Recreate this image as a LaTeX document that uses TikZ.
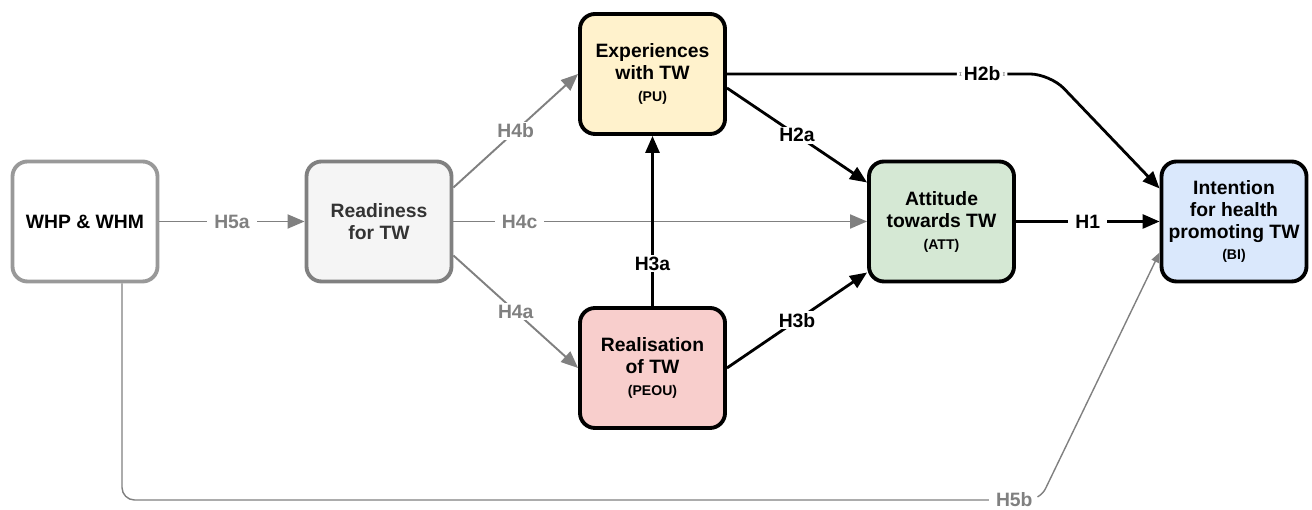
\documentclass[tikz,border=0pt]{standalone}
\usepackage{fontspec}
\setmainfont{Liberation Sans}
\usetikzlibrary{positioning, arrows.meta, calc}

\definecolor{puyellow}{HTML}{FFF2CC}
\definecolor{peoured}{HTML}{F8CECC}
\definecolor{attgreen}{HTML}{D5E8D4}
\definecolor{biblue}{HTML}{DAE8FC}
\definecolor{lightfill}{HTML}{F5F5F5}
\definecolor{edgegray}{HTML}{808080}
\definecolor{boxgray}{HTML}{999999}

\newcommand{\abbr}[1]{{\fontsize{8}{9}\selectfont(#1)}}

\begin{document}
\begin{tikzpicture}[>={Triangle[length=0.34cm, width=0.28cm]},
  factor/.style={draw, rounded corners=0.3cm, minimum width=2.9cm,
    minimum height=2.4cm, line width=2.2pt, align=center, inner sep=2pt,
    font=\fontsize{11}{12.5}\selectfont\bfseries},
  hyp/.style={fill=white, inner xsep=4pt, inner ysep=1pt,
    font=\fontsize{11}{12}\selectfont\bfseries},
  strong/.style={->, line width=1.6pt},
  weak/.style={->, line width=1.1pt, draw=edgegray},
  faint/.style={->, line width=0.8pt, draw=edgegray,
    >={Triangle[length=0.2cm, width=0.16cm]}}]

\useasboundingbox (0,0) rectangle (26.24,10.2);

% --- Factors ---
\node[factor, draw=boxgray] (whp) at (1.7, 5.77) {WHP \& WHM};
\node[factor, draw=edgegray, fill=lightfill, text=black!80] (ready) at (7.58, 5.77)
  {Readiness\\for TW};
\node[factor, fill=puyellow] (exp) at (13.05, 8.72)
  {Experiences\\with TW\\\abbr{PU}};
\node[factor, fill=peoured] (real) at (13.05, 2.84)
  {Realisation\\of TW\\\abbr{PEOU}};
\node[factor, fill=attgreen] (att) at (18.83, 5.77)
  {Attitude\\towards TW\\\abbr{ATT}};
\node[factor, fill=biblue] (bi) at (24.68, 5.77)
  {Intention\\for health\\promoting TW\\\abbr{BI}};

% --- Bends ---
\coordinate (h2bturn) at (21.0, 8.72);
\coordinate (h5bturn) at (20.8, 0.2);

% --- Readiness paths (gray) ---
\draw[weak] (whp) -- node[hyp, text=edgegray] {H5a} (ready);
\draw[weak] ([yshift=0.68cm]ready.east) -- node[hyp, text=edgegray] {H4b} (exp.west);
\draw[weak] (ready) -- node[hyp, text=edgegray, pos=0.16] {H4c} (att);
\draw[weak] ([yshift=-0.68cm]ready.east) -- node[hyp, text=edgegray] {H4a} (real.west);

% --- TAM paths (black) ---
\draw[strong] (real) -- node[hyp, pos=0.25] {H3a} (exp);
\draw[strong] ([yshift=-0.28cm]exp.east) -- node[hyp] {H2a} ([yshift=0.78cm]att.west);
\draw[strong] (real.east) -- node[hyp] {H3b} ([yshift=-1.02cm]att.west);
\draw[strong] (att) -- node[hyp] {H1} (bi);
\draw[strong, rounded corners=0.4cm] (exp.east) -- node[hyp, pos=0.79] {H2b}
  (h2bturn) -- ([yshift=0.66cm]bi.west);

% --- Direct path ---
\draw[faint, rounded corners=0.25cm] ([xshift=0.74cm]whp.south) |-
  node[hyp, text=edgegray, pos=0.986] {H5b} (h5bturn) -- ([yshift=-0.62cm]bi.west);

\end{tikzpicture}
\end{document}
